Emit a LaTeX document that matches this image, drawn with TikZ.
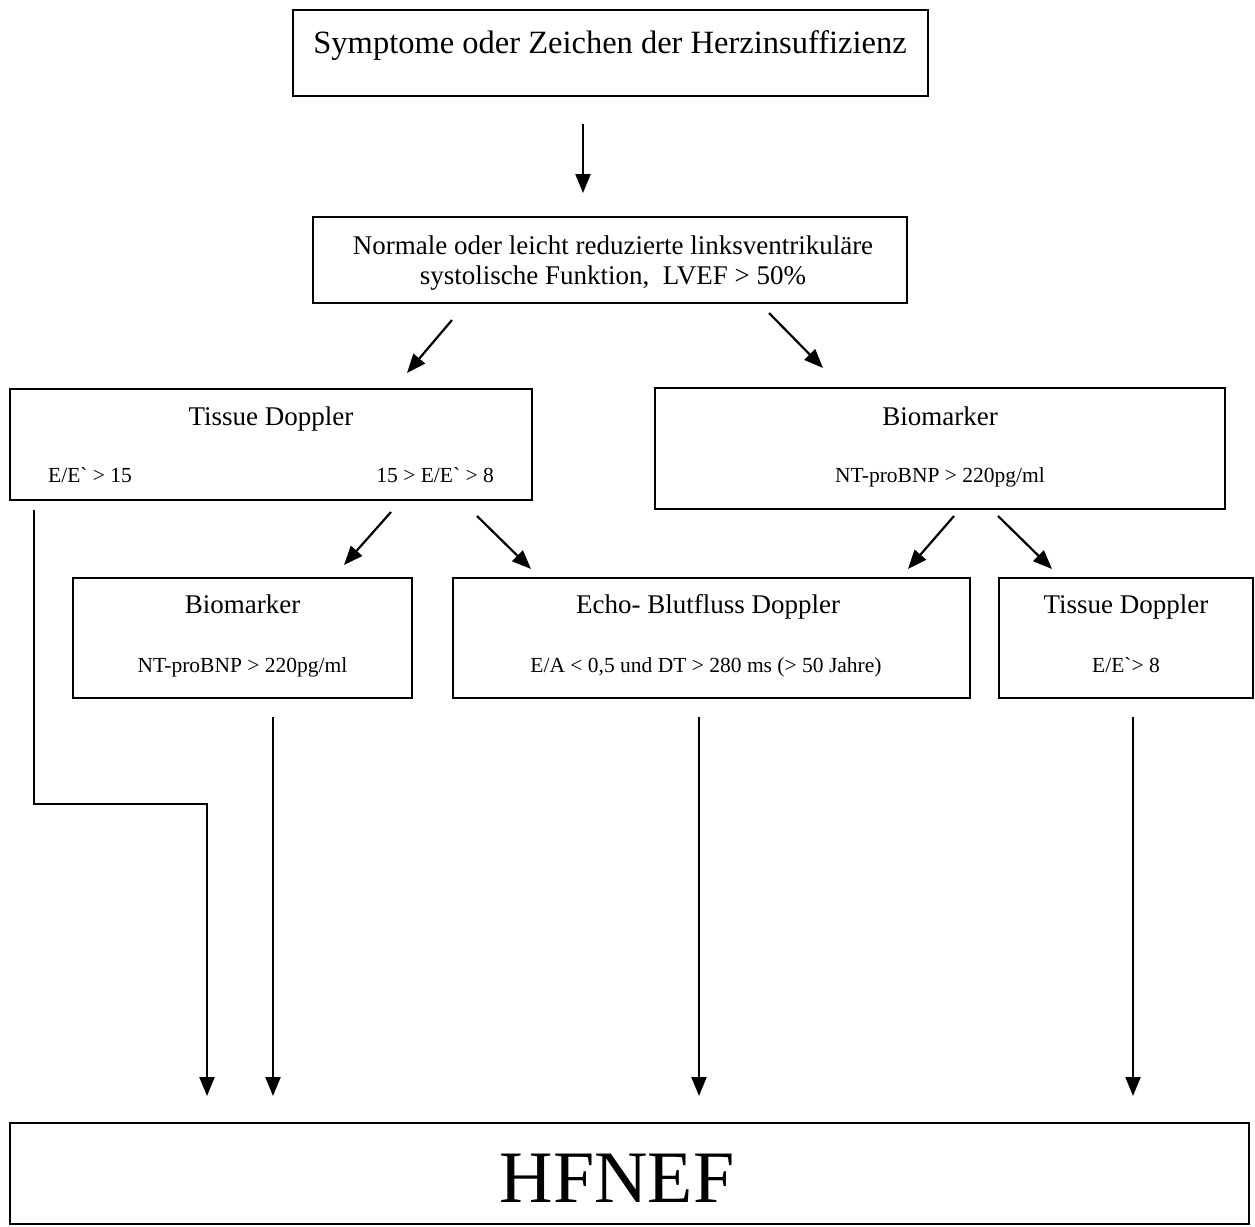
\documentclass[tikz,border=0pt]{standalone}
\usepackage{fontspec}
\setmainfont{Liberation Serif}[Ligatures=TeXOff]
\usetikzlibrary{arrows.meta}

\begin{document}
\begin{tikzpicture}[x=1pt,y=-1pt,
        box/.style={draw,line width=2pt,inner sep=0pt},
        head/.style={font=\fontsize{27}{30}\selectfont,inner sep=0pt,anchor=base},
        small/.style={font=\fontsize{21.5}{24}\selectfont,inner sep=0pt,anchor=base},
        arr/.style={line width=2.2pt,-{Triangle[length=19pt,width=15pt]}}]
        \useasboundingbox (0,0) rectangle (1255,1226);
        % boxes
        \node[box,minimum width=635,minimum height=86] (sym) at (610.5,53) {};
        \node[box,minimum width=594,minimum height=86] (lv) at (610,260) {};
        \node[box,minimum width=522,minimum height=111] (td1) at (271,444.5) {};
        \node[box,minimum width=570,minimum height=121] (bm1) at (940,448.5) {};
        \node[box,minimum width=339,minimum height=120] (bm2) at (242.5,638) {};
        \node[box,minimum width=517,minimum height=120] (echo) at (711.5,638) {};
        \node[box,minimum width=254,minimum height=120] (td2) at (1126,638) {};
        \node[box,minimum width=1239,minimum height=101] (hf) at (629.5,1173.5) {};
        % texts
        \node[head,font=\fontsize{32.5}{36}\selectfont] (symt) at (610,53) {Symptome oder Zeichen der Herzinsuffizienz};
        \node[head,align=center] (lvt) at (613,284) {Normale oder leicht reduzierte linksventrikuläre\\systolische Funktion,\ \ LVEF > 50\%};
        \node[head] (td1t) at (271,425) {Tissue Doppler};
        \node[small,anchor=base west] (td1a) at (48,482) {E/E` > 15};
        \node[small,anchor=base east] (td1b) at (494,482) {15 > E/E` > 8};
        \node[head] (bm1t) at (940,425) {Biomarker};
        \node[small] (bm1a) at (940,482) {NT-proBNP > 220pg/ml};
        \node[head] (bm2t) at (242.5,613) {Biomarker};
        \node[small] (bm2a) at (242.5,672) {NT-proBNP > 220pg/ml};
        \node[head] (echot) at (708,613) {Echo- Blutfluss Doppler};
        \node[small] (echoa) at (706,672) {E/A < 0,5 und DT > 280 ms (> 50 Jahre)};
        \node[head] (td2t) at (1126,613) {Tissue Doppler};
        \node[small] (td2a) at (1126,672) {E/E`> 8};
        \node[head,font=\fontsize{74}{80}\selectfont] (hft) at (617,1202) {HFNEF};
        % arrows
        \draw[arr] ([shift={(291,27)}]sym.south west) -- ([shift={(271,-23)}]lv.north west);
        \draw[arr] ([shift={(140,16)}]lv.south west) -- ([shift={(-126,-15)}]td1.north east);
        \draw[arr] ([shift={(457,9)}]lv.south west) -- ([shift={(169,-19)}]bm1.north west);
        \draw[arr] ([shift={(382,11)}]td1.south west) -- ([shift={(272,-12)}]bm2.north west);
        \draw[arr] ([shift={(468,15)}]td1.south west) -- ([shift={(79,-8)}]echo.north west);
        \draw[arr] ([shift={(300,6)}]bm1.south west) -- ([shift={(-63,-8)}]echo.north east);
        \draw[arr] ([shift={(344,6)}]bm1.south west) -- ([shift={(54,-8)}]td2.north west);
        \draw[arr] ([shift={(25,9)}]td1.south west) -- ++(0,294) -| ([shift={(198,-26)}]hf.north west);
        \draw[arr] ([shift={(201,18)}]bm2.south west) -- ([shift={(264,-26)}]hf.north west);
        \draw[arr] ([shift={(247,18)}]echo.south west) -- ([shift={(690,-26)}]hf.north west);
        \draw[arr] ([shift={(135,18)}]td2.south west) -- ([shift={(1124,-26)}]hf.north west);
\end{tikzpicture}
\end{document}
